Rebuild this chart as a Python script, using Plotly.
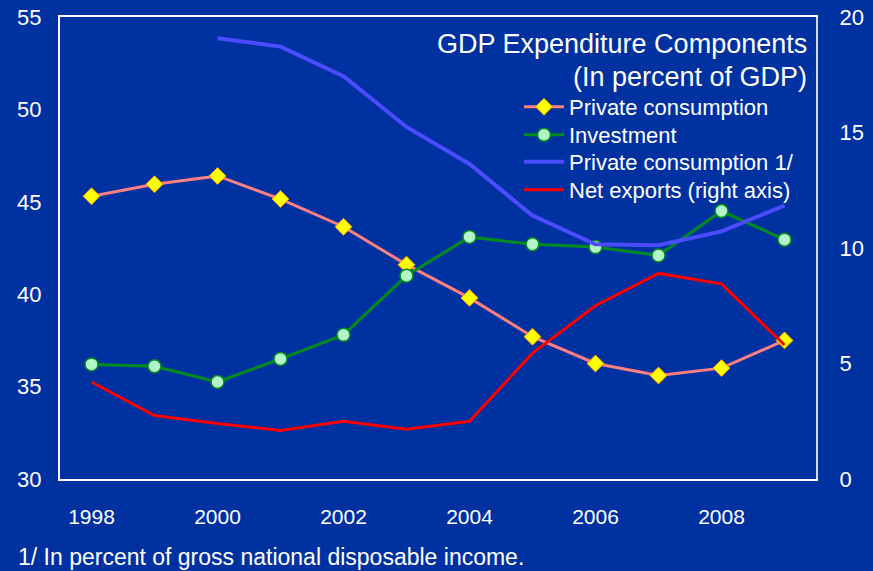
import plotly.graph_objects as go

years = [1998, 1999, 2000, 2001, 2002, 2003, 2004, 2005, 2006, 2007, 2008, 2009]
private_consumption = [45.3, 45.95, 46.4, 45.15, 43.65, 41.6, 39.8, 37.7, 36.25, 35.6, 36.0, 37.5]
investment = [36.2, 36.1, 35.25, 36.5, 37.8, 41.0, 43.1, 42.7, 42.55, 42.1, 44.5, 42.95]
years_gndi = [2000, 2001, 2002, 2003, 2004, 2005, 2006, 2007, 2008, 2009]
private_consumption_gndi = [53.85, 53.4, 51.8, 49.05, 47.05, 44.25, 42.7, 42.65, 43.4, 44.8]
net_exports = [4.2, 2.75, 2.4, 2.1, 2.5, 2.15, 2.5, 5.45, 7.5, 8.9, 8.45, 5.8]

left_ticks = [30, 35, 40, 45, 50, 55]
right_ticks = [0, 5, 10, 15, 20]
x_ticks = [1998, 2000, 2002, 2004, 2006, 2008]

BG = "#0031A0"
FONT = "Liberation Sans, Arial, sans-serif"

W, H = 873, 571
L, R, T, B = 60, 57, 17, 92
pw, ph = W - L - R, H - T - B


def px(xp):
    return (xp - L) / pw


def py(yp):
    return (H - B - yp) / ph


fig = go.Figure()

fig.add_trace(go.Scatter(
    x=years, y=private_consumption, name="Private consumption",
    mode="lines+markers", legend="legend",
    line=dict(color="#FF8080", width=3),
    marker=dict(symbol="diamond", size=13, color="#FFFF00",
                line=dict(color="#FF9900", width=1)),
))
fig.add_trace(go.Scatter(
    x=years, y=investment, name="Investment",
    mode="lines+markers", legend="legend2",
    line=dict(color="#008C1E", width=3),
    marker=dict(symbol="circle", size=13, color="#B3F5C8",
                line=dict(color="#008C1E", width=1.5)),
))
fig.add_trace(go.Scatter(
    x=years_gndi, y=private_consumption_gndi, name="Private consumption 1/",
    mode="lines", legend="legend3",
    line=dict(color="#4B4BFF", width=4),
))
fig.add_trace(go.Scatter(
    x=years, y=net_exports, name="Net exports (right axis)",
    mode="lines", yaxis="y2", legend="legend4",
    line=dict(color="#FF0000", width=3),
))


def legend_row(yc):
    return dict(
        x=px(519), y=py(yc), xanchor="left", yanchor="middle",
        bgcolor="rgba(0,0,0,0)", borderwidth=0,
        font=dict(family=FONT, size=22, color="white"),
        itemwidth=40,
    )


fig.update_layout(
    width=W, height=H,
    margin=dict(l=L, r=R, t=T, b=B),
    paper_bgcolor=BG, plot_bgcolor=BG,
    font=dict(family=FONT, color="white", size=17),
    showlegend=True,
    legend=legend_row(107),
    legend2=legend_row(135),
    legend3=legend_row(162),
    legend4=legend_row(190),
    xaxis=dict(
        range=[1997.5, 2009.5], tickvals=x_ticks,
        showgrid=False, zeroline=False, automargin=False,
        showline=True, linecolor="white", linewidth=2, mirror=True,
        ticks="", ticklabelstandoff=18,
        tickfont=dict(family=FONT, size=21, color="white"),
    ),
    yaxis=dict(
        range=[30, 55], tickvals=left_ticks,
        showgrid=False, zeroline=False, automargin=False,
        showline=True, linecolor="white", linewidth=2,
        ticks="", ticklabelstandoff=12,
        tickfont=dict(family=FONT, size=22, color="white"),
    ),
    yaxis2=dict(
        range=[0, 20], tickvals=right_ticks, overlaying="y", side="right",
        showgrid=False, zeroline=False, automargin=False,
        showline=True, linecolor="#D8DCF0", linewidth=2,
        ticks="", ticklabelstandoff=17,
        tickfont=dict(family=FONT, size=22, color="white"),
    ),
)

fig.add_annotation(text="GDP Expenditure Components", xref="paper", yref="paper",
                   x=px(809), y=py(44), xanchor="right", yanchor="middle",
                   showarrow=False, font=dict(family=FONT, size=27, color="white"))
fig.add_annotation(text="(In percent of GDP)", xref="paper", yref="paper",
                   x=px(809), y=py(77), xanchor="right", yanchor="middle",
                   showarrow=False, font=dict(family=FONT, size=27, color="white"))
fig.add_annotation(text="1/ In percent of gross national disposable income.",
                   xref="paper", yref="paper",
                   x=px(16), y=py(557), xanchor="left", yanchor="middle",
                   showarrow=False, font=dict(family=FONT, size=23, color="white"))

fig.write_html("out.html")
